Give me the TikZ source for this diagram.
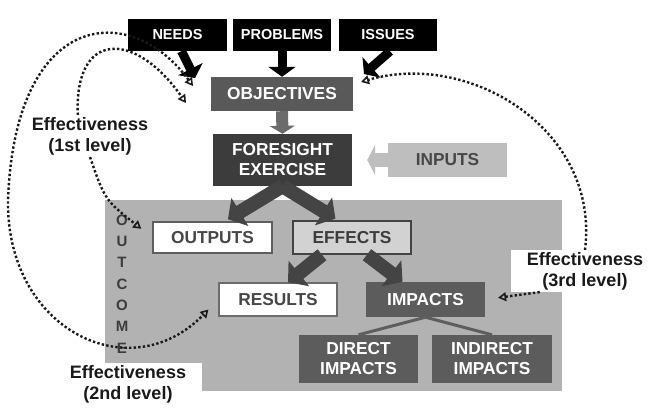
\documentclass[tikz,border=0pt]{standalone}
\usepackage{fontspec}
\setmainfont{Liberation Sans}
\usetikzlibrary{arrows.meta}

\definecolor{bggray}{HTML}{B2B2B2}
\definecolor{objgray}{HTML}{595959}
\definecolor{foregray}{HTML}{3C3C3C}
\definecolor{inputgray}{HTML}{BEBEBE}
\definecolor{effgray}{HTML}{D2D2D2}
\definecolor{impgray}{HTML}{5C5C5C}
\definecolor{boxline}{HTML}{5E5E5E}
\definecolor{textgray}{HTML}{474747}
\definecolor{arrowdark}{HTML}{444444}
\definecolor{arrowgray}{HTML}{6B6B6B}
\definecolor{dotcol}{HTML}{1A1A1A}

\tikzset{
  topbox/.style={fill=black, text=white, font=\fontsize{14.5}{17}\selectfont\bfseries,
    minimum width=98pt, minimum height=32pt, inner sep=0pt},
  box/.style={font=\fontsize{17.3}{20}\selectfont\bfseries, align=center, inner sep=0pt},
  darkbox/.style={box, fill=impgray, text=white},
  whitebox/.style={box, fill=white, draw=boxline, line width=1.5pt, text=textgray},
  outcome/.style={font=\fontsize{15}{21.3}\selectfont\bfseries, align=center, text=foregray},
  efflabel/.style={font=\fontsize{18}{21}\selectfont\bfseries, align=center, text=dotcol,
    inner xsep=16pt, inner ysep=2pt},
  blackarrow/.style={draw=black, line width=9pt, -{Triangle[width=27pt,length=10pt]}},
  grayarrow/.style={draw=arrowgray, line width=12pt, -{Triangle[width=25pt,length=8pt]}},
  fatarrow/.style={draw=arrowdark, line width=14pt, -{Triangle[width=32pt,length=14pt]}},
  inarrow/.style={draw=inputgray, line width=14pt, -{Triangle[width=30pt,length=8pt]}},
  impline/.style={draw=boxline, line width=3pt},
  effarrow/.style={draw=dotcol, line width=2.4pt, dash pattern=on 2.4pt off 2.2pt,
    -{Triangle[open,width=9pt,length=8pt,line width=1.6pt]}},
  effboth/.style={effarrow, {Triangle[open,width=9pt,length=8pt,line width=1.6pt]}-{Triangle[open,width=9pt,length=8pt,line width=1.6pt]}}
}

\begin{document}
\begin{tikzpicture}[x=1pt,y=-1pt]
\useasboundingbox (0,0) rectangle (650,408);

% outcome area
\fill[bggray] (105,200) rectangle (562,391);
\node[outcome] (outcome) at (122,284) {O\\U\\T\\C\\O\\M\\E};

% boxes
\node[topbox, minimum width=99pt] (needs) at (177.5,35) {NEEDS};
\node[topbox] (problems) at (282,35) {PROBLEMS};
\node[topbox] (issues) at (388,35) {ISSUES};
\node[darkbox, fill=objgray, minimum width=142pt, minimum height=34pt] (objectives) at (282,94) {OBJECTIVES};
\node[darkbox, fill=foregray, minimum width=139pt, minimum height=52pt] (foresight) at (282.5,160) {FORESIGHT\\EXERCISE};
\node[box, fill=inputgray, text=textgray, minimum width=119pt, minimum height=34pt] (inputs) at (447.5,160) {INPUTS};
\node[whitebox, minimum width=119pt, minimum height=31pt] (outputs) at (212.5,237.5) {OUTPUTS};
\node[whitebox, fill=effgray, draw=arrowdark, text=foregray, minimum width=118pt, minimum height=33pt] (effects) at (352,237.5) {EFFECTS};
\node[whitebox, draw=arrowgray, minimum width=118pt, minimum height=33pt] (results) at (278,299.5) {RESULTS};
\node[darkbox, minimum width=119pt, minimum height=35pt] (impacts) at (425.5,299.5) {IMPACTS};
\node[darkbox, minimum width=119pt, minimum height=48pt] (direct) at (358.5,359) {DIRECT\\IMPACTS};
\node[darkbox, minimum width=120pt, minimum height=48pt] (indirect) at (492,359) {INDIRECT\\IMPACTS};

% block arrows
\coordinate (needsin) at (195,78);
\coordinate (issuesin) at (364,74);
\draw[blackarrow] ([xshift=4pt]needs.south) -- (needsin);
\draw[blackarrow] (problems.south) -- (objectives.north);
\draw[blackarrow] ([xshift=2pt]issues.south) -- (issuesin);
\draw[grayarrow] (objectives.south) -- (foresight.north);
\draw[inarrow, shorten >=15pt] (inputs.west) -- (foresight.east);
\draw[fatarrow, shorten >=4pt] (foresight.south) -- ([xshift=12pt]outputs.north);
\draw[fatarrow, shorten >=3pt] (foresight.south) -- ([xshift=-14pt]effects.north);
\draw[fatarrow] ([xshift=-30pt]effects.south) -- ([xshift=10pt]results.north);
\draw[fatarrow] ([xshift=15pt]effects.south) -- ([xshift=-23pt]impacts.north);
\draw[impline] (impacts.south) -- (direct.north);
\draw[impline] (impacts.south) -- (indirect.north);

% effectiveness labels
\node[efflabel] (eff1) at (90,136) {Effectiveness\\(1st level)};
\node[efflabel, fill=white] (eff2) at (128,384) {Effectiveness\\(2nd level)};
\node[efflabel, fill=white] (eff3) at (585,271) {Effectiveness\\(3rd level)};

% dotted arrows
\coordinate (objtipA) at (186,103);
\coordinate (objtipB) at (193,86);
\coordinate (issuestip) at (361,82);
\draw[effarrow] (eff1.120) .. controls (74,30) and (135,30) .. (objtipA);
\draw[effarrow, shorten >=14pt] (eff1.south) .. controls (105,200) .. (outputs.west);
\draw[effboth, shorten >=14pt] (objtipB) .. controls (130,0) and (15,10) .. (8,200)
  .. controls (6,330) and (130,390) .. (results.west);
\draw[effarrow] (eff3.north) .. controls (600,130) and (470,50) .. (issuestip);
\draw[effarrow, shorten >=13pt] (eff3.205) -- (impacts.east);
\end{tikzpicture}
\end{document}
